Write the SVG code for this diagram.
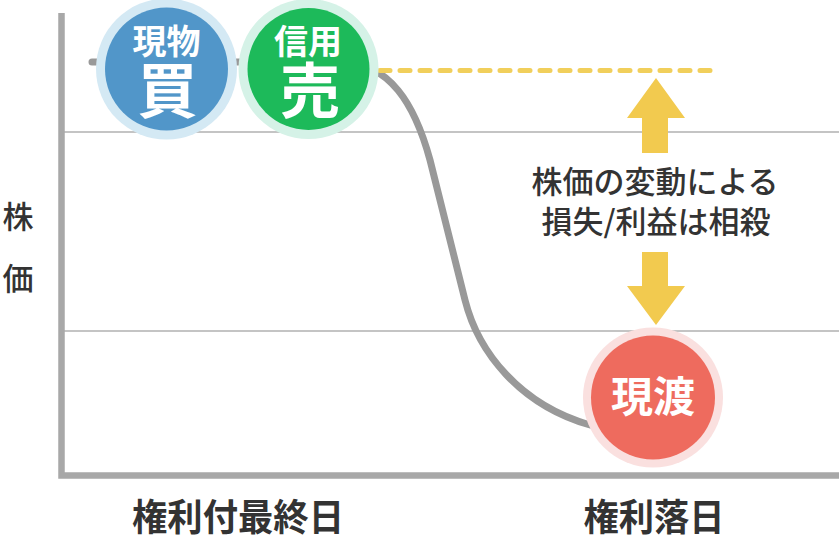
<svg xmlns="http://www.w3.org/2000/svg" width="839" height="540" viewBox="0 0 839 540">
<style>
.grid{stroke:#c4c4c4;stroke-width:2;fill:none}
.axis{stroke:#a8a8a8;stroke-width:6.5;fill:none}
.t{font-family:"Noto Sans CJK JP","Noto Sans CJK SC",sans-serif;fill:#333;font-weight:500;text-anchor:middle}
.b{font-weight:700}
.w{font-family:"Noto Sans CJK JP","Noto Sans CJK SC",sans-serif;fill:#fff;font-weight:700;text-anchor:middle}
.arrow{fill:#f2ca4f}
</style>
<rect width="839" height="540" fill="#fff"/>
<g id="grid">
<line class="grid" x1="62" y1="132" x2="839" y2="132"/>
<line class="grid" x1="62" y1="331" x2="839" y2="331"/>
</g>
<g id="axes">
<polyline class="axis" points="61.5,13 61.5,475.5 839,475.5"/>
</g>
<g id="connectors">
<path d="M92,62 H340 C390,62 415,105 430,160 L465,300 C478,352 520,405 590,425" fill="none" stroke="#999" stroke-width="7" stroke-linecap="round" stroke-linejoin="round"/>
<line x1="380" y1="70.5" x2="712" y2="70.5" stroke="#f1cf5b" stroke-width="5" stroke-dasharray="10 10" stroke-linecap="round"/>
<polygon class="arrow" points="656,78 685,118 668,118 668,153 642,153 642,118 627,118"/>
<polygon class="arrow" points="642,252 668,252 668,286 685,286 656,325 627,286 642,286"/>
</g>
<g id="node-genbutsu">
<circle cx="166.5" cy="69" r="70.5" fill="#d4e9f4"/>
<circle cx="166.5" cy="69" r="61.5" fill="#5196c9"/>
<text class="w" x="166.5" y="54" font-size="34">現物</text>
<text class="w" x="167.5" y="113" font-size="60">買</text>
</g>
<g id="node-shinyo">
<circle cx="308.5" cy="69" r="70" fill="#d5f2e7"/>
<circle cx="308.5" cy="69" r="61" fill="#1dba5a"/>
<text class="w" x="308" y="54" font-size="34">信用</text>
<text class="w" x="310" y="113" font-size="60">売</text>
</g>
<g id="node-genwatashi">
<circle cx="653" cy="397.5" r="70" fill="#fae0df"/>
<circle cx="653" cy="397.5" r="62" fill="#ee6b5e"/>
<text class="w" x="653" y="412" font-size="42">現渡</text>
</g>
<g id="label-middle">
<text class="t" x="655" y="193" font-size="31">株価の変動による</text>
<text class="t" x="656" y="233" font-size="31">損失/利益は相殺</text>
</g>
<g id="labels">
<text class="t" x="18" y="228" font-size="31">株</text>
<text class="t" x="18" y="290" font-size="31">価</text>
<text class="t b" x="238" y="531" font-size="37" textLength="212" lengthAdjust="spacingAndGlyphs">権利付最終日</text>
<text class="t b" x="654" y="531" font-size="37" textLength="141" lengthAdjust="spacingAndGlyphs">権利落日</text>
</g>
</svg>
